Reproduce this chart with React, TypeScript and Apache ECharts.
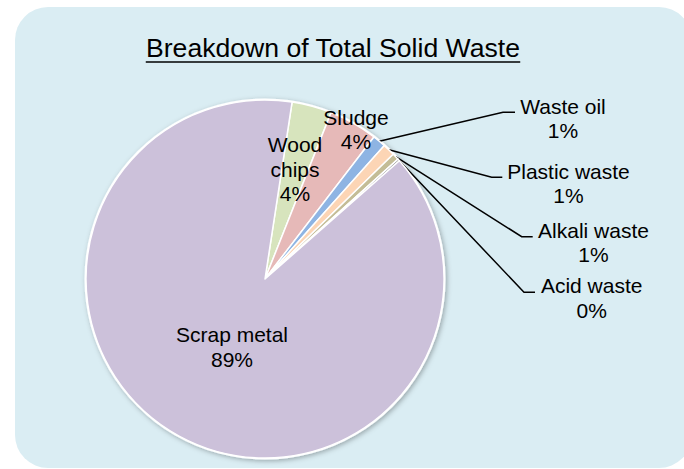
import React, { useEffect, useRef } from 'react';
import * as echarts from 'echarts';

// ---- data ----
const categories = ['Wood chips', 'Sludge', 'Waste oil', 'Plastic waste', 'Alkali waste', 'Acid waste', 'Scrap metal'];
const labelNames = ['Wood\nchips', 'Sludge', 'Waste oil', 'Plastic waste', 'Alkali waste', 'Acid waste', 'Scrap metal'];
const values = [3.6, 4.4, 1.2, 1.1, 0.6, 0.2, 88.9];
const titleText = 'Breakdown of Total Solid Waste';

// ---- styles / layout ----
const colors = ['#D7E4BD', '#E6B9B8', '#8EB4E3', '#FCD5B5', '#C4BD97', '#8C8C8C', '#CCC1DA'];
const FONT = '"Liberation Sans", Arial, Helvetica, sans-serif';
// label centre positions (and leader-line elbow/end for outside labels)
const labelPlacement: { x: number; y: number; line?: number[][] }[] = [
  { x: 295, y: 169 },
  { x: 356, y: 129.5 },
  { x: 563, y: 118.3, line: [[503, 112.3], [515, 112.3]] },
  { x: 568.5, y: 183.4, line: [[491.7, 177.3], [502.3, 177.3]] },
  { x: 593.5, y: 242.5, line: [[521.7, 236.7], [532.7, 236.7]] },
  { x: 591.7, y: 298, line: [[524, 292.3], [535, 292.3]] },
  { x: 232, y: 347 },
];

export default function App() {
  const ref = useRef<HTMLDivElement>(null);
  useEffect(() => {
    if (!ref.current) return;
    const chart = echarts.init(ref.current, null, { renderer: 'svg' });
    const titleSize = 26.6;
    const ctx = document.createElement('canvas').getContext('2d')!;
    ctx.font = `${titleSize}px ${FONT}`;
    const tw = ctx.measureText(titleText).width;
    const titleX = 333;
    const titleY = 47.5;
    const cx = 265;
    const cy = 279;
    const r = 179;

    const option: any = {
      animation: false,
      backgroundColor: '#ffffff',
      graphic: [
        {
          type: 'rect',
          z: -10,
          silent: true,
          shape: { x: 15, y: 7, width: 677, height: 461, r: 33 },
          style: { fill: '#DAEDF3' },
        },
        {
          type: 'circle',
          z: 0,
          silent: true,
          shape: { cx, cy, r: r + 1.5 },
          style: {
            fill: '#ffffff',
            shadowBlur: 5,
            shadowColor: 'rgba(0,0,0,0.3)',
            shadowOffsetX: 1.5,
            shadowOffsetY: 1.5,
          },
        },
        {
          type: 'text',
          z: 10,
          style: {
            text: titleText,
            x: titleX,
            y: titleY,
            align: 'center',
            verticalAlign: 'middle',
            fontSize: titleSize,
            fontFamily: FONT,
            fill: '#000',
          },
        },
        {
          type: 'line',
          z: 10,
          silent: true,
          shape: { x1: titleX - tw / 2, y1: 62, x2: titleX + tw / 2, y2: 62 },
          style: { stroke: '#000', lineWidth: 1.5 },
        },
      ],
      series: [
        {
          type: 'pie',
          center: [cx, cy],
          radius: r,
          startAngle: 81.3,
          clockwise: true,
          avoidLabelOverlap: false,
          minShowLabelAngle: 0,
          emphasis: { disabled: true },
          itemStyle: { borderColor: '#ffffff', borderWidth: 1.5 },
          label: {
            show: true,
            position: 'outside',
            color: '#000',
            fontSize: 21,
            fontFamily: FONT,
            lineHeight: 24.5,
            align: 'center',
            formatter: (p: any) => `${labelNames[p.dataIndex]}\n${Math.round(p.percent)}%`,
          },
          labelLine: { show: true, length: 10, length2: 10, lineStyle: { color: '#000', width: 1.5 } },
          labelLayout: (params: any) => {
            const p = labelPlacement[params.dataIndex];
            const out: any = { x: p.x, y: p.y, align: 'center', verticalAlign: 'middle' };
            if (p.line && params.labelLinePoints) {
              const s = params.labelLinePoints[0];
              out.labelLinePoints = [[s[0], s[1]], p.line[0], p.line[1]];
            }
            return out;
          },
          data: categories.map((name, i) => ({
            name,
            value: values[i],
            itemStyle: { color: colors[i] },
            labelLine: { show: !!labelPlacement[i].line },
          })),
        },
      ],
    };
    chart.setOption(option);
    return () => chart.dispose();
  }, []);
  return <div ref={ref} style={{ position: 'absolute', left: 0, top: 0, width: 684, height: 469 }} />;
}
